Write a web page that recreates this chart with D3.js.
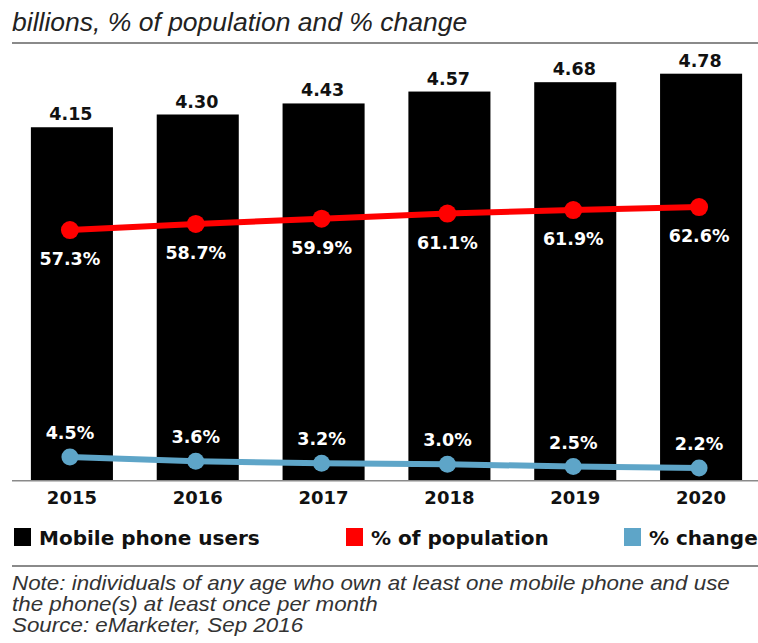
<!DOCTYPE html>
<html>
<head>
<meta charset="utf-8">
<script src="https://cdn.jsdelivr.net/npm/d3@7"></script>
<style>
body { margin: 0; background: #ffffff; }
svg { display: block; }
</style>
</head>
<body>
<svg id="chart" width="758" height="643"></svg>
<script>
let years = ["2015", "2016", "2017", "2018", "2019", "2020"];
let users = [4.15, 4.30, 4.43, 4.57, 4.68, 4.78];
let popShare = [57.3, 58.7, 59.9, 61.1, 61.9, 62.6];
let pctChange = [4.5, 3.6, 3.2, 3.0, 2.5, 2.2];
let legendItems = ["Mobile phone users", "% of population", "% change"];
let noteLines = [
    "Note: individuals of any age who own at least one mobile phone and use",
    "the phone(s) at least once per month",
    "Source: eMarketer, Sep 2016"
];

let barColor = "#000000";
let redColor = "#ff0000";
let blueColor = "#5ea5c8";
let ruleColor = "#8a8a8a";
let boldFont = "'DejaVu Sans', sans-serif";
let plainFont = "'Liberation Sans', Arial, sans-serif";

let svg = d3.select("#chart");
let baseY = 480;

let x = d3.scaleBand()
    .domain(years)
    .range([9, 764])
    .paddingInner(0.348)
    .paddingOuter(0.174);

let yBar = d3.scaleLinear().domain([0, 5]).range([baseY, baseY - 425]);
let yPop = d3.scaleLinear().domain([55, 65]).range([240, 196.6]);
let yChg = d3.scaleLinear().domain([0, 5]).range([478.6, 454.6]);

// title + top rule
svg.append("text")
    .attr("x", 12)
    .attr("y", 31)
    .attr("font-family", plainFont)
    .attr("font-style", "italic")
    .attr("font-size", 26.5)
    .attr("fill", "#222")
    .text("billions, % of population and % change");

svg.append("rect").attr("x", 12).attr("y", 42).attr("width", 746).attr("height", 2).attr("fill", ruleColor);

// bars
svg.selectAll(".bar")
    .data(users)
    .join("rect")
    .attr("class", "bar")
    .attr("x", (d, i) => x(years[i]))
    .attr("y", d => yBar(d))
    .attr("width", x.bandwidth())
    .attr("height", d => baseY - yBar(d))
    .attr("fill", barColor);

svg.selectAll(".barLabel")
    .data(users)
    .join("text")
    .attr("class", "barLabel")
    .attr("x", (d, i) => x(years[i]) + x.bandwidth() / 2 - 1)
    .attr("y", d => yBar(d) - 7)
    .attr("text-anchor", "middle")
    .attr("font-family", boldFont)
    .attr("font-weight", "bold")
    .attr("font-size", 17.5)
    .attr("fill", "#111")
    .text(d => d.toFixed(2));

// axis line + year labels
let xAxis = svg.append("g")
    .attr("transform", "translate(0," + baseY + ")")
    .call(d3.axisBottom(x).tickSize(0).tickPadding(11));
xAxis.select(".domain").remove();
xAxis.selectAll("text")
    .attr("font-family", boldFont)
    .attr("font-weight", "bold")
    .attr("font-size", 18)
    .attr("fill", "#111");
svg.append("rect").attr("x", 12).attr("y", baseY).attr("width", 746).attr("height", 1.5).attr("fill", ruleColor);

function cx(i) { return x(years[i]) + x.bandwidth() / 2 - 2; }

// % of population line
svg.append("path")
    .datum(popShare)
    .attr("fill", "none")
    .attr("stroke", redColor)
    .attr("stroke-width", 6)
    .attr("d", d3.line().x((d, i) => cx(i)).y(d => yPop(d)));
svg.selectAll(".popDot")
    .data(popShare)
    .join("circle")
    .attr("class", "popDot")
    .attr("cx", (d, i) => cx(i))
    .attr("cy", d => yPop(d))
    .attr("r", 9)
    .attr("fill", redColor);
svg.selectAll(".popLabel")
    .data(popShare)
    .join("text")
    .attr("class", "popLabel")
    .attr("x", (d, i) => cx(i))
    .attr("y", d => yPop(d) + 35)
    .attr("text-anchor", "middle")
    .attr("font-family", boldFont)
    .attr("font-weight", "bold")
    .attr("font-size", 17.5)
    .attr("fill", "#ffffff")
    .text(d => d.toFixed(1) + "%");

// % change line
svg.append("path")
    .datum(pctChange)
    .attr("fill", "none")
    .attr("stroke", blueColor)
    .attr("stroke-width", 6)
    .attr("d", d3.line().x((d, i) => cx(i)).y(d => yChg(d)));
svg.selectAll(".chgDot")
    .data(pctChange)
    .join("circle")
    .attr("class", "chgDot")
    .attr("cx", (d, i) => cx(i))
    .attr("cy", d => yChg(d))
    .attr("r", 8.5)
    .attr("fill", blueColor);
svg.selectAll(".chgLabel")
    .data(pctChange)
    .join("text")
    .attr("class", "chgLabel")
    .attr("x", (d, i) => cx(i))
    .attr("y", d => yChg(d) - 18)
    .attr("text-anchor", "middle")
    .attr("font-family", boldFont)
    .attr("font-weight", "bold")
    .attr("font-size", 17.5)
    .attr("fill", "#ffffff")
    .text(d => d.toFixed(1) + "%");

// legend
let legendX = [14, 346, 624];
let legendColors = [barColor, redColor, blueColor];
legendItems.forEach(function (name, i) {
    svg.append("rect")
        .attr("x", legendX[i])
        .attr("y", 528)
        .attr("width", 17)
        .attr("height", 18)
        .attr("fill", legendColors[i]);
    svg.append("text")
        .attr("x", legendX[i] + 25)
        .attr("y", 545)
        .attr("font-family", boldFont)
        .attr("font-weight", "bold")
        .attr("font-size", 20)
        .attr("fill", "#111")
        .text(name);
});

svg.append("rect").attr("x", 12).attr("y", 565).attr("width", 746).attr("height", 2).attr("fill", ruleColor);

// footnote, squeezed to look like the narrow face in the original
let note = svg.append("g");
note.selectAll(".note")
    .data(noteLines)
    .join("text")
    .attr("class", "note")
    .attr("x", 0)
    .attr("y", (d, i) => 590 + i * 21)
    .attr("font-family", plainFont)
    .attr("font-style", "italic")
    .attr("font-size", 20)
    .attr("fill", "#333")
    .text(d => d);
let firstW = note.select(".note").node().getComputedTextLength();
let sx = 718 / firstW;
note.attr("transform", "translate(12,0) scale(" + sx + ",1)");
</script>
</body>
</html>
